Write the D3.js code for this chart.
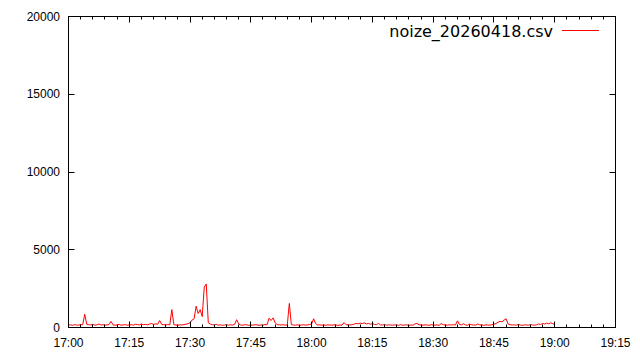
<!DOCTYPE html>
<html>
<head>
<meta charset="utf-8">
<script src="https://cdn.jsdelivr.net/npm/d3@7"></script>
<style>
  body { margin: 0; background: #fff; }
  svg { display: block; }
</style>
</head>
<body>
<div id="chart"></div>
<script>
// noise readings, one sample every 30 s starting 17:00:00
const seriesName = 'noize_20260418.csv';
const startTime = '17:00:00';
const stepSeconds = 30;
const noise = [
  150, 170, 140, 180, 160, 150, 190, 170, 850, 210,
  180, 160, 200, 150, 170, 220, 160, 180, 150, 170,
  190, 390, 170, 150, 160, 200, 140, 170, 180, 150,
  160, 180, 150, 210, 190, 160, 230, 180, 200, 170,
  220, 260, 190, 240, 210, 450, 200, 180, 160, 190,
  170, 1150, 180, 160, 150, 170, 160, 190, 210, 250,
  300, 480, 560, 1370, 900, 1150, 700, 2600, 2800, 300,
  220, 180, 160, 200, 150, 170, 140, 160, 180, 150,
  170, 160, 200, 500, 230, 160, 150, 180, 170, 140,
  160, 150, 180, 170, 140, 160, 150, 190, 170, 600,
  450, 620, 300, 190, 170, 160, 180, 150, 170, 1550,
  180, 160, 150, 170, 140, 160, 180, 150, 170, 190,
  230, 560, 250, 160, 170, 150, 160, 140, 170, 160,
  150, 170, 160, 140, 160, 150, 320, 180, 170, 160,
  180, 220, 260, 240, 280, 250, 300, 230, 260, 220,
  240, 200, 180, 260, 170, 160, 190, 150, 170, 160,
  150, 170, 160, 140, 180, 150, 160, 170, 140, 160,
  150, 230, 260, 180, 160, 150, 170, 160, 140, 180,
  160, 150, 170, 140, 250, 180, 160, 150, 170, 160,
  180, 160, 430, 190, 170, 240, 160, 150, 220, 170,
  160, 150, 230, 170, 160, 140, 170, 160, 150, 180,
  200, 260, 330, 400, 360, 480, 560, 220, 180, 160,
  170, 150, 200, 160, 140, 170, 160, 150, 180, 160,
  150, 170, 230, 190, 260, 220, 280, 240, 300, 250,
  200
];
const xDomain = ['17:00', '19:15'];
const yDomain = [0, 20000];
const yTicks = [0, 5000, 10000, 15000, 20000];

const width = 640, height = 360;
const margin = { top: 16, right: 25, bottom: 33, left: 68 };

const parse = d3.timeParse('%H:%M:%S');
const t0 = parse(startTime);
const data = noise.map((v, i) => ({ t: d3.timeSecond.offset(t0, i * stepSeconds), v }));

const svg = d3.select('#chart').append('svg')
  .attr('width', width)
  .attr('height', height);

const x = d3.scaleTime()
  .domain(xDomain.map(s => parse(s + ':00')))
  .range([margin.left + 0.5, width - margin.right + 0.5]);
const y = d3.scaleLinear()
  .domain(yDomain)
  .range([height - margin.bottom + 0.5, margin.top + 0.5]);

const x0 = x.range()[0], x1 = x.range()[1];
const yb = y.range()[0], yt = y.range()[1];

// data line first, frame on top
const line = d3.line()
  .x(d => x(d.t))
  .y(d => y(d.v));
svg.append('path')
  .datum(data)
  .attr('d', line)
  .attr('fill', 'none')
  .attr('stroke', '#ff0000')
  .attr('stroke-width', 1);

const ticks = svg.append('g').attr('stroke', '#000').attr('stroke-width', 1);
const minor = x.ticks(d3.timeMinute.every(3));
const major = x.ticks(d3.timeMinute.every(15));
minor.forEach(t => {
  const len = major.some(m => +m === +t) ? 6 : 3;
  const px = Math.round(x(t) - 0.5) + 0.5;
  ticks.append('line').attr('x1', px).attr('x2', px).attr('y1', yb).attr('y2', yb - len);
  ticks.append('line').attr('x1', px).attr('x2', px).attr('y1', yt).attr('y2', yt + len);
});
yTicks.forEach(v => {
  const py = Math.round(y(v) - 0.5) + 0.5;
  ticks.append('line').attr('x1', x0).attr('x2', x0 + 6).attr('y1', py).attr('y2', py);
  ticks.append('line').attr('x1', x1).attr('x2', x1 - 6).attr('y1', py).attr('y2', py);
});

svg.append('rect')
  .attr('x', x0).attr('y', yt)
  .attr('width', x1 - x0).attr('height', yb - yt)
  .attr('fill', 'none')
  .attr('stroke', '#000');

const fmt = d3.timeFormat('%H:%M');
svg.append('g')
  .attr('font-family', '"Liberation Sans", Arial, sans-serif')
  .attr('font-size', 12)
  .attr('text-anchor', 'middle')
  .selectAll('text')
  .data(major)
  .join('text')
  .attr('x', d => x(d))
  .attr('y', 347)
  .text(fmt);

svg.append('g')
  .attr('font-family', '"Liberation Sans", Arial, sans-serif')
  .attr('font-size', 12)
  .attr('text-anchor', 'end')
  .selectAll('text')
  .data(yTicks)
  .join('text')
  .attr('x', 60)
  .attr('y', d => y(d) + 4)
  .text(d => d);

// legend
svg.append('text')
  .attr('x', 553)
  .attr('y', 37)
  .attr('text-anchor', 'end')
  .attr('font-family', '"DejaVu Sans", sans-serif')
  .attr('font-size', 16)
  .text(seriesName);
svg.append('line')
  .attr('x1', 562).attr('x2', 599)
  .attr('y1', 30.5).attr('y2', 30.5)
  .attr('stroke', '#ff0000');
</script>
</body>
</html>
